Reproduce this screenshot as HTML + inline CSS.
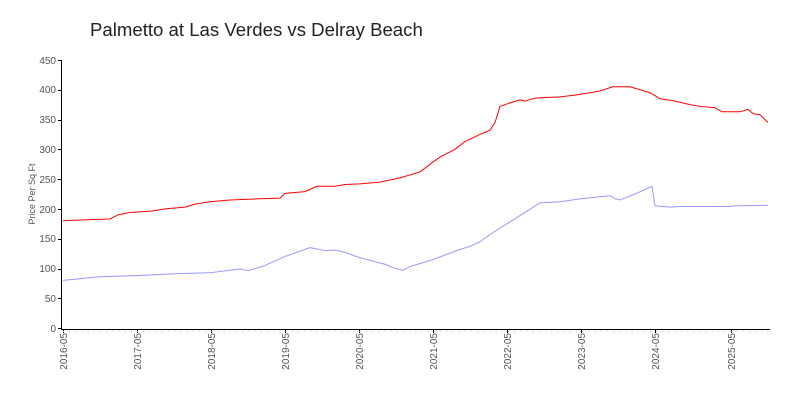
<!DOCTYPE html>
<html><head><style>
body{margin:0;background:#fff;}
svg{display:block;font-family:"Liberation Sans",sans-serif;}
</style></head><body>
<svg width="800" height="400" viewBox="0 0 800 400">
<text x="90" y="36" font-size="18.6" fill="#222">Palmetto at Las Verdes vs Delray Beach</text>
<text transform="translate(35,194) rotate(-90)" text-anchor="middle" font-size="9" fill="#555">Price Per Sq Ft</text>
<g font-size="10" fill="#555" text-anchor="end">
<text x="56" y="332">0</text><text x="56" y="302">50</text><text x="56" y="272">100</text>
<text x="56" y="242">150</text><text x="56" y="213">200</text><text x="56" y="183">250</text>
<text x="56" y="153">300</text><text x="56" y="123">350</text><text x="56" y="93">400</text>
<text x="56" y="64">450</text>
</g>
<g stroke="#000" stroke-width="1">
<line x1="61.5" y1="60" x2="61.5" y2="329"/>
<line x1="61" y1="329.5" x2="770" y2="329.5"/>
<line x1="58" y1="60.5" x2="62" y2="60.5"/><line x1="58" y1="90.5" x2="62" y2="90.5"/>
<line x1="58" y1="120.5" x2="62" y2="120.5"/><line x1="58" y1="149.5" x2="62" y2="149.5"/>
<line x1="58" y1="179.5" x2="62" y2="179.5"/><line x1="58" y1="209.5" x2="62" y2="209.5"/>
<line x1="58" y1="239.5" x2="62" y2="239.5"/><line x1="58" y1="269.5" x2="62" y2="269.5"/>
<line x1="58" y1="298.5" x2="62" y2="298.5"/><line x1="58" y1="328.5" x2="62" y2="328.5"/>
</g>
<g font-size="10" fill="#555" text-anchor="end">
<text transform="translate(67,333) rotate(-90)">2016-05</text>
<text transform="translate(141,333) rotate(-90)">2017-05</text>
<text transform="translate(215,333) rotate(-90)">2018-05</text>
<text transform="translate(289,333) rotate(-90)">2019-05</text>
<text transform="translate(363,333) rotate(-90)">2020-05</text>
<text transform="translate(437,333) rotate(-90)">2021-05</text>
<text transform="translate(511,333) rotate(-90)">2022-05</text>
<text transform="translate(585,333) rotate(-90)">2023-05</text>
<text transform="translate(659,333) rotate(-90)">2024-05</text>
<text transform="translate(735,333) rotate(-90)">2025-05</text>
</g>
<g stroke="#000" stroke-width="1">
<line x1="63.5" y1="329" x2="63.5" y2="333"/><line x1="137.5" y1="329" x2="137.5" y2="333"/>
<line x1="211.5" y1="329" x2="211.5" y2="333"/><line x1="285.5" y1="329" x2="285.5" y2="333"/>
<line x1="359.5" y1="329" x2="359.5" y2="333"/><line x1="433.5" y1="329" x2="433.5" y2="333"/>
<line x1="507.5" y1="329" x2="507.5" y2="333"/><line x1="581.5" y1="329" x2="581.5" y2="333"/>
<line x1="655.5" y1="329" x2="655.5" y2="333"/><line x1="731.5" y1="329" x2="731.5" y2="333"/>
</g>
<line x1="63" y1="331.5" x2="768" y2="331.5" stroke="#bbb" stroke-width="1" stroke-dasharray="1 5.18"/>
<g transform="translate(0,328) scale(1,-0.5956)" fill="none" stroke-width="1" stroke-linejoin="round">
<polyline vector-effect="non-scaling-stroke" stroke="#ff0000" points="63,180 90,182 110,183 118,190 130,194 150,196 165,200 185,203 195,208 210,212 230,215 260,217 280,218 285,226 305,229 317,238 335,238 345,241 360,242 380,245 400,252 420,262 430,275 440,287 455,300 465,313 480,325 490,332 495,345 500,372 510,378 520,383 525,381 535,386 545,387 560,388 575,391 590,395 600,398 613,405 630,405 650,395 660,385 672,382 690,375 700,372 715,370 722,363 740,363 748,367 753,360 760,358 768,345"/>
<polyline vector-effect="non-scaling-stroke" stroke="#9999ff" points="63,80 100,86 137,88 175,91 211,93 240,99 248,96 265,105 285,120 310,135 325,130 335,131 345,127 360,118 385,107 395,100 403,97 410,103 433,115 460,132 470,137 480,145 490,157 507,175 540,210 560,212 581,217 610,222 615,217 620,215 635,225 652,238 655,205 670,203 680,204 730,204 735,205 768,206"/>
</g>
</svg>
</body></html>
